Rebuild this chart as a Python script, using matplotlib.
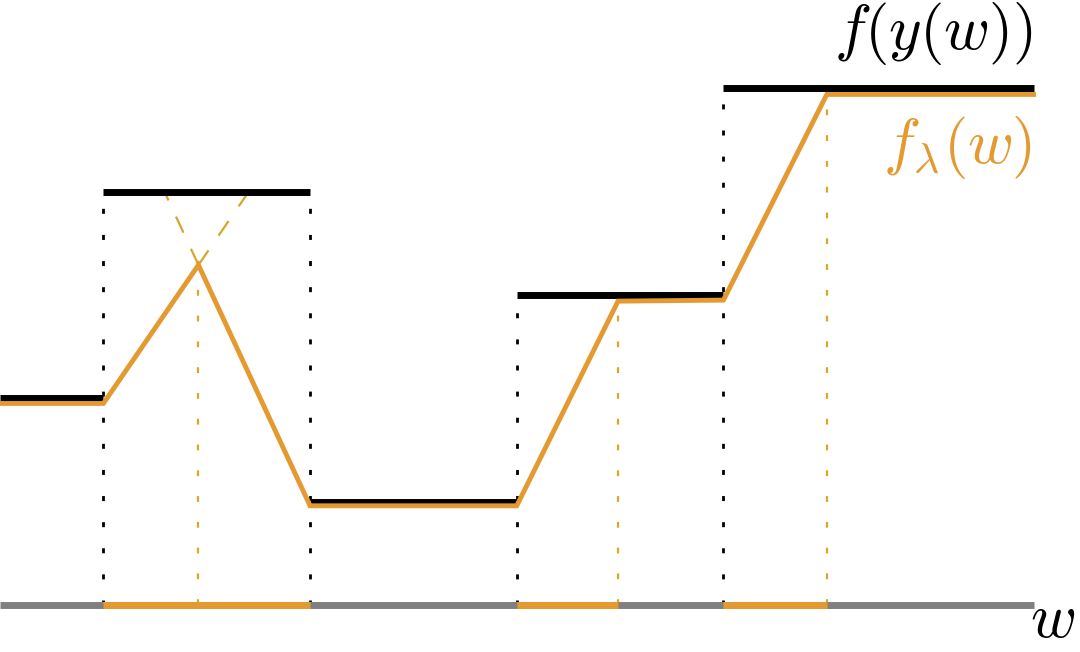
import numpy as np
import matplotlib.pyplot as plt

plt.rcParams['mathtext.fontset'] = 'cm'

# ---- data ----
# step function f(y(w)): breakpoints and levels
step_edges = [0, 1, 3, 5, 7, 10]
step_levels = [2, 4, 1, 3, 5]

# smoothed envelope f_lambda(w): knots
env_w = [0, 1, 1.92, 3, 5, 5.98, 7, 8.0, 10]
env_f = [1.95, 1.95, 3.29, 0.96, 0.96, 2.94, 2.95, 4.94, 4.94]

# kink positions of the envelope (peaks / corners), drawn with coloured dashes
kinks_w = [1.92, 5.98, 8.0]
kinks_f = [3.29, 2.94, 4.94]

# intervals on the w-axis where the envelope is not flat
active = [(1, 3), (5, 5.98), (7, 8.0)]

BLACK = 'black'
ORANGE = '#E49A30'
GOLD = '#D4A82A'
GREY = '#808080'

fig = plt.figure(figsize=(10.8, 6.52), dpi=100)
ax = fig.add_axes([0, 0, 1, 1])
ax.set_xlim(0, 1080 / 103.35)
ax.set_ylim(-47 / 103.35, 605 / 103.35)
ax.axis('off')

# w axis
ax.plot([step_edges[0], step_edges[-1]], [0, 0], color=GREY, lw=5,
        solid_capstyle='butt', zorder=2)
for a, b in active:
    ax.plot([a, b], [0, 0], color=ORANGE, lw=5, solid_capstyle='butt', zorder=3)

# black dotted verticals at the jumps of the step function
for i, e in enumerate(step_edges[1:-1]):
    top = max(step_levels[i], step_levels[i + 1])
    ax.plot([e, e], [0, top], color=BLACK, lw=2, ls=(0, (1.8, 7.6)), zorder=1)

# coloured dashed verticals at the kinks
for k, v in zip(kinks_w, kinks_f):
    ax.plot([k, k], [0, v], color=GOLD, lw=1.6, ls=(0, (2.6, 9.0)), zorder=1)

# dashed extensions of the two slopes meeting at the first peak
p0 = np.array([env_w[1], env_f[1]])
pk = np.array([env_w[2], env_f[2]])
p1 = np.array([env_w[3], env_f[3]])
lvl = step_levels[1]
for a in (p0, p1):
    d = pk - a
    t = (lvl - pk[1]) / d[1]
    end = pk + t * d
    ax.plot([pk[0], end[0]], [pk[1], end[1]], color=GOLD, lw=1.6,
            ls=(0, (8, 8)), zorder=2)

# step function
for i, lv in enumerate(step_levels):
    ax.plot([step_edges[i], step_edges[i + 1]], [lv, lv], color=BLACK, lw=5,
            solid_capstyle='butt', zorder=3)

# envelope
ax.plot(env_w, env_f, color=ORANGE, lw=3.5, solid_joinstyle='miter', zorder=4)

# labels
ax.text(9.99, 5.38, r'$f(y(w))$', fontsize=45, ha='right', va='baseline', color=BLACK)
ax.text(9.99, 4.28, r'$f_{\lambda}(w)$', fontsize=45, ha='right', va='baseline', color=ORANGE)
ax.text(10.40, -0.44, r'$w$', fontsize=45, ha='right', va='bottom', color=BLACK)

fig.savefig('out.png', dpi=100)
